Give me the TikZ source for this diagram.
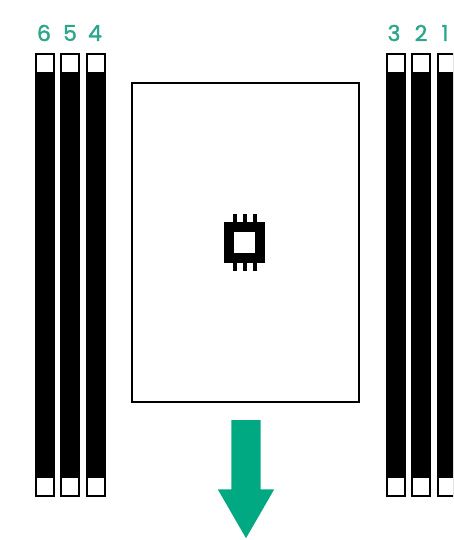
\documentclass[tikz,border=0pt]{standalone}
\usepackage{fontspec}
\setmainfont[FakeBold=1.5]{Poppins}
\usetikzlibrary{positioning,shapes.arrows}
\definecolor{hpegreen}{HTML}{01A982}
\definecolor{slotnum}{HTML}{2BA68A}
\tikzset{
  dimmslot/.style={rectangle, fill=black, inner sep=0pt, minimum width=20pt, minimum height=444pt},
  latch/.style={rectangle, fill=white, inner sep=0pt, minimum width=16pt, minimum height=17pt},
  slotnum/.style={inner sep=0pt, font=\fontsize{22}{22}\selectfont, text=slotnum},
  pin/.style={line width=4pt, draw=black},
}
\begin{document}
\begin{tikzpicture}[x=1pt, y=-1pt]
    \clip (0,0) rectangle (453,540);
    % left bank
    \node[dimmslot] (s6) at (45,275) {};
    \node[dimmslot, right=5pt of s6] (s5) {};
    \node[dimmslot, right=5pt of s5] (s4) {};
    % right bank
    \node[dimmslot] (s3) at (396,275) {};
    \node[dimmslot, right=5pt of s3] (s2) {};
    \node[dimmslot, right=5pt of s2] (s1) {};
    % latches
    \node[latch, below=2.5pt of s6.north] (l6t) {};
    \node[latch, below=2.5pt of s5.north] (l5t) {};
    \node[latch, below=2.5pt of s4.north] (l4t) {};
    \node[latch, below=2.5pt of s3.north] (l3t) {};
    \node[latch, below=2.5pt of s2.north] (l2t) {};
    \node[latch, below=2.5pt of s1.north] (l1t) {};
    \node[latch, above=2.5pt of s6.south] (l6b) {};
    \node[latch, above=2.5pt of s5.south] (l5b) {};
    \node[latch, above=2.5pt of s4.south] (l4b) {};
    \node[latch, above=2.5pt of s3.south] (l3b) {};
    \node[latch, above=2.5pt of s2.south] (l2b) {};
    \node[latch, above=2.5pt of s1.south] (l1b) {};
    % numbers
    \node[slotnum] (n6) at (44,33) {6};
    \node[slotnum] (n5) at (70,33) {5};
    \node[slotnum] (n4) at (95,33) {4};
    \node[slotnum] (n3) at (394,33) {3};
    \node[slotnum] (n2) at (421,33) {2};
    \node[slotnum] (n1) at (445,33) {1};
    % board and cpu
    \node[draw=black, line width=2pt, inner sep=0pt, minimum width=227pt, minimum height=319pt] (board) at (245.5,242.5) {};
    \draw[pin] (235,214) -- (235,271);
    \draw[pin] (245,214) -- (245,271);
    \draw[pin] (255,214) -- (255,271);
    \node[draw=black, fill=white, line width=10pt, inner sep=0pt, minimum size=31pt] (cpu) at (244.5,242.5) {};
    % airflow
    \node[single arrow, fill=hpegreen, inner sep=14.5pt, minimum width=56pt, minimum height=118pt,
          single arrow head extend=13.5pt, single arrow head indent=0pt, single arrow tip angle=60,
          shape border rotate=270, anchor=tail] (flow) at (246,420) {};
\end{tikzpicture}
\end{document}
